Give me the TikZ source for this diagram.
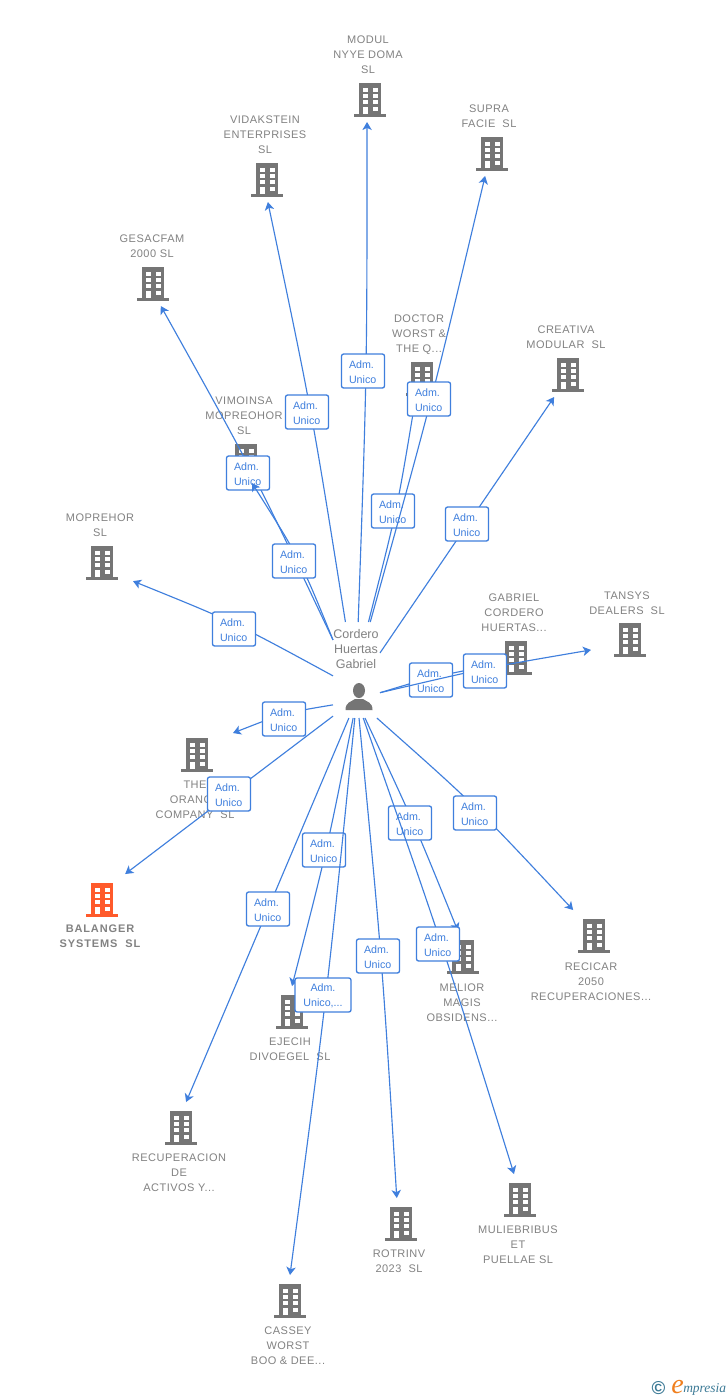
\documentclass[tikz,border=0pt]{standalone}
\usepackage{fontspec}
\setmainfont{Liberation Sans}
\newfontfamily\labelFont[LetterSpace=4.5]{Liberation Sans}
\newfontfamily\boldLabelFont[LetterSpace=8,BoldFont={Liberation Sans Bold}]{Liberation Sans}
\newfontfamily\logoFont{Liberation Serif}
\usetikzlibrary{arrows.meta}
\definecolor{linkBlue}{HTML}{3F7FDD}
\definecolor{iconGray}{HTML}{757575}
\definecolor{textGray}{HTML}{828282}
\definecolor{mainOrange}{HTML}{FF5A2B}
\definecolor{logoTeal}{HTML}{3C7A96}
\definecolor{logoOrange}{HTML}{F07F1E}
\tikzset{
    unit/.style={minimum width=54pt,minimum height=36pt,inner sep=0pt,outer sep=0pt},
    chief/.style={minimum width=35.25pt,minimum height=72pt,inner sep=0pt,outer sep=0pt},
    nameText/.style={anchor=north,inner sep=0pt,align=center,text=textGray,font=\labelFont\fontsize{8.25}{11.25}\selectfont},
    link/.style={linkBlue,line width=0.85pt,-{Stealth[length=6pt,width=7pt,inset=1.6pt]}},
    admBox/.style={draw=linkBlue,line width=1pt,rounded corners=1.6pt,fill=white,text=linkBlue,
        minimum width=32.25pt,minimum height=25.5pt,inner sep=0pt,align=left,text width=21pt,text height=7.2pt,
        font=\fontsize{8}{11.25}\selectfont},
    admWide/.style={admBox,minimum width=42pt,text width=38pt,align=center},
    pics/building/.style={code={
        \fill[#1] (-11,-16.7) rectangle (11,15);
        \fill[#1] (-16,14.3) rectangle (16,17);
        \foreach \row in {-12.3,-6,0.3} {
            \fill[white] (-7,\row) rectangle (-2.5,\row+4);
            \fill[white] (2.5,\row) rectangle (7.5,\row+4);
        }
        \fill[white] (-7,6.8) rectangle (-2.5,14.3);
        \fill[white] (2.5,6.6) rectangle (7.5,10.8);
    }}
}
\begin{document}
\begin{tikzpicture}[x=0.75pt,y=-0.75pt]
    \useasboundingbox (0,0) rectangle (728,1400);
    \fill[white] (0,0) rectangle (728,1400);

    % companies: icon position, then text position
    \foreach \name/\ix/\iy/\lx/\ly/\txt in {
        modul/370/98/368/36/{MODUL\\NYYE DOMA\\SL},
        supra/492/152/489/105/{SUPRA\\FACIE~~SL},
        vidakstein/267/178/265/116/{VIDAKSTEIN\\ENTERPRISES\\SL},
        gesacfam/153/282/152/235/{GESACFAM\\2000 SL},
        doctor/422/377/419/315/{DOCTOR\\WORST \&\\THE Q...},
        creativa/568/373/566/326/{CREATIVA\\MODULAR~~SL},
        vimoinsa/246/459/244/397/{VIMOINSA\\MOPREOHOR\\SL},
        gabriel/516/656/514/594/{GABRIEL\\CORDERO\\HUERTAS...},
        orange/197/753/195/781/{THE\\ORANGE\\COMPANY~~SL},
        recicar/594/934/591/963/{RECICAR\\2050\\RECUPERACIONES...},
        melior/463/955/462/984/{MELIOR\\MAGIS\\OBSIDENS...},
        ejecih/292/1010/290/1038/{EJECIH\\DIVOEGEL~~SL},
        recuperacion/181/1126/179/1154/{RECUPERACION\\DE\\ACTIVOS Y...},
        muliebribus/520/1198/518/1226/{MULIEBRIBUS\\ET\\PUELLAE SL},
        rotrinv/401/1222/399/1250/{ROTRINV\\2023~~SL},
        cassey/290/1299/288/1327/{CASSEY\\WORST\\BOO \& DEE...}} {
        \node[unit] (\name) at (\ix,\iy) {};
        \node[nameText] (\name Text) at (\lx,\ly) {\txt};
        \pic at ([yshift=-1.5pt]\name) {building=iconGray};
    }
    \node[unit,minimum width=46.5pt] (moprehor) at (102,561) {};
    \node[nameText] (moprehorText) at (100,514) {MOPREHOR\\SL};
    \pic at ([yshift=-1.5pt]moprehor) {building=iconGray};
    \node[unit,minimum width=58.5pt] (tansys) at (630,638) {};
    \node[nameText] (tansysText) at (627,592) {TANSYS\\DEALERS~~SL};
    \pic at ([yshift=-1.5pt]tansys) {building=iconGray};
    \node[unit] (balanger) at (102,898) {};
    \node[nameText,font=\boldLabelFont\bfseries\fontsize{8.25}{11.25}\selectfont] (balangerText) at (100,925) {BALANGER\\SYSTEMS~~SL};
    \pic at ([yshift=-1.5pt]balanger) {building=mainOrange};

    % person in the middle
    \node[chief] (cordero) at (356.5,670) {};
    \node[nameText,font=\fontsize{9.4}{11.25}\selectfont] (corderoText) at (356,629.5) {Cordero\\Huertas\\Gabriel};
    \fill[iconGray] (359,690.5) ellipse (6 and 7.5);
    \fill[iconGray] (345.5,710) .. controls (345.5,702) and (351,702) .. (355,699) -- (363,699) .. controls (367,702) and (372.5,702) .. (372.5,710) -- cycle;

    % edges, each followed by its box
    \foreach \ang/\cx/\cy/\target/\endAng/\sty/\bx/\by/\txt in {
        88/367/372/modul/-97/admBox/363/371/{Adm.\\Unico},
        103/312/412/vidakstein/-88/admBox/307/412/{Adm.\\Unico},
        76/397/510/doctor/-106/admBox/393/511/{Adm.\\Unico},
        74/432/400/supra/-106/admBox/429/399/{Adm.\\Unico},
        36/467/525/creativa/-120/admBox/467/524/{Adm.\\Unico},
        128/254/473/gesacfam/-72/admBox/248/473/{Adm.\\Unico},
        128/300/559/vimoinsa/-76/admBox/294/561/{Adm.\\Unico},
        194/234/622/moprehor/-33/admBox/234/629/{Adm.\\Unico},
        -44/432/677/gabriel/198/admBox/431/680/{Adm.\\Unico},
        -44/485/668/tansys/197/admBox/485/671/{Adm.\\Unico},
        -124/284/713/orange/29/admBox/284/719/{Adm.\\Unico},
        -117/229/795/balanger/46/admBox/229/794/{Adm.\\Unico},
        -67/475/805/recicar/131/admBox/475/813/{Adm.\\Unico},
        -80/415/825/melior/102/admBox/410/823/{Adm.\\Unico},
        -82/443/946/muliebribus/104/admBox/438/944/{Adm.\\Unico},
        -87/382/958/rotrinv/100/admBox/378/956/{Adm.\\Unico},
        -94/327/850/ejecih/90/admBox/324/850/{Adm.\\Unico},
        -92/327/995/cassey/90/admWide/323/995/{Adm.\\Unico,...},
        -99/268/909/recuperacion/78/admBox/268/909/{Adm.\\Unico}} {
        \draw[link] (cordero.\ang) .. controls (\cx,\cy) .. (\target.\endAng);
        \node[\sty] (\target Adm) at (\bx,\by) {\txt};
    }

    \node[text=logoTeal,font=\bfseries\fontsize{14}{14}\selectfont,inner sep=0pt] (copyMark) at (658.5,1388.5) {©};
    \node[text=logoOrange,font=\logoFont\itshape\fontsize{21}{21}\selectfont,inner sep=0pt] (logoE) at (677.5,1387) {e};
    \node[text=logoTeal,font=\logoFont\itshape\fontsize{10.1}{12}\selectfont,inner sep=0pt,anchor=base west] (logoName) at (683,1392) {mpresia};
\end{tikzpicture}
\end{document}
